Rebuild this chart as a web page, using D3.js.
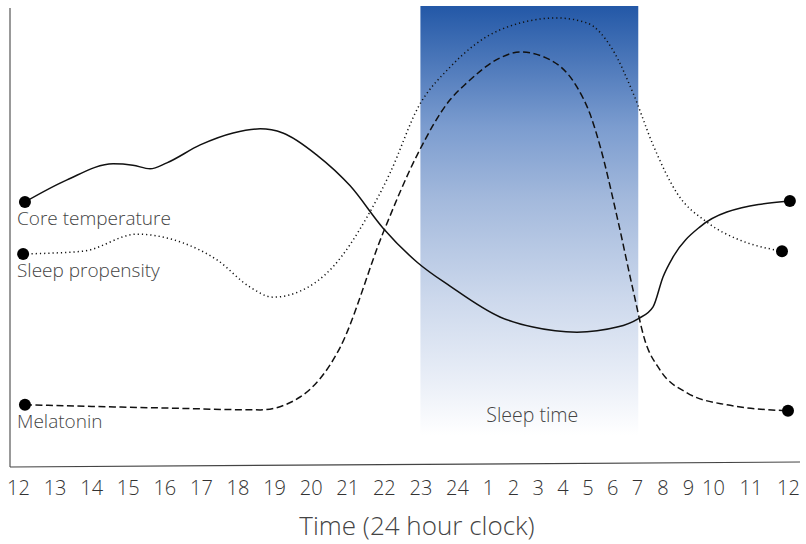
<!DOCTYPE html>
<html><head><meta charset="utf-8">
<script src="https://cdn.jsdelivr.net/npm/d3@7"></script>
<style>
html,body{margin:0;padding:0;background:#fff;}
svg{display:block;font-family:"Open Sans",Roboto,Arial,sans-serif;font-weight:300;}
</style></head>
<body><svg id="chart" width="806" height="544"></svg>
<script>
// hours since 12:00 noon
const tickHours = d3.range(0, 25);
const tickLabels = ["12","13","14","15","16","17","18","19","20","21","22","23","24","1","2","3","4","5","6","7","8","9","10","11","12"];

const coreHours = [0.19,1.34,2.60,3.14,3.61,4.07,4.98,5.88,6.62,7.24,8.17,9.08,9.98,10.91,11.81,13.48,14.81,16.58,18.20,19.04,19.63,20.02,20.41,21.48,22.37,24.05];
const coreLevel = [57.4,62.2,65.7,65.4,64.6,65.9,69.8,72.4,73.3,72.4,67.6,60.9,51.7,44.3,39.1,32.4,30.2,29.1,30.2,32.0,34.6,41.1,45.4,52.0,55.2,57.6];

const sleepHours = [0.14,1.78,3.25,4.51,5.44,6.34,6.97,7.71,8.61,9.54,10.17,10.94,11.81,13.48,15.78,16.99,18.03,18.84,19.63,20.57,21.76,22.72,23.52,23.84];
const sleepLevel = [46.1,46.7,50.4,48.5,44.8,38.9,36.7,38.0,43.3,54.1,63.7,78.0,86.7,94.8,97.4,96.3,90.4,81.1,69.8,59.3,53.0,49.1,47.2,46.7];

const melHours = [0.19,4.07,6.62,7.71,8.80,9.98,10.91,11.81,12.32,13.48,14.29,15.50,16.58,17.11,17.51,18.20,18.84,19.30,19.90,20.96,22.37,24.0];
const melLevel = [13.3,12.6,12.2,15.0,25.7,50.7,67.6,79.6,83.3,88.7,90.0,88.3,82.4,76.5,69.6,54.1,38.3,27.5,20.9,15.9,13.3,12.0];

const seriesNames = ["Core temperature","Sleep propensity","Melatonin"];
const sleepWindow = [11, 19.05];
const sleepLevelRange = [6.7, 100];

const svg = d3.select("#chart");
const x = d3.scaleLinear()
  .domain([0,12,13,19,21,22,24])
  .range([18,457,488,637,688,713,788]);
const y = d3.scaleLinear().domain([0,100]).range([466,6]);

// gradient
const defs = svg.append("defs");
const grad = defs.append("linearGradient").attr("id","sleepGrad")
  .attr("x1",0).attr("y1",0).attr("x2",0).attr("y2",1);
[[0,"#2358a7"],[0.28,"#7b9ccf"],[0.45,"#a3b9dc"],[0.68,"#ccd8ec"],[0.87,"#e9eef7"],[1,"#ffffff"]]
  .forEach(s=>grad.append("stop").attr("offset",s[0]).attr("stop-color",s[1]));

svg.append("rect")
  .attr("x", x(sleepWindow[0]))
  .attr("width", x(sleepWindow[1]) - x(sleepWindow[0]))
  .attr("y", y(sleepLevelRange[1]))
  .attr("height", y(sleepLevelRange[0]) - y(sleepLevelRange[1]))
  .attr("fill","url(#sleepGrad)");

svg.append("text").attr("x", x((sleepWindow[0]+sleepWindow[1])/2)-6).attr("y", 422)
  .attr("text-anchor","middle").attr("font-size",19.5).attr("fill","#444").text("Sleep time");

// axes
svg.append("line").attr("x1",10).attr("y1",8).attr("x2",10).attr("y2",467)
  .attr("stroke","#555").attr("stroke-width",1.2);
svg.append("line").attr("x1",10).attr("y1",467).attr("x2",800).attr("y2",462)
  .attr("stroke","#444").attr("stroke-width",1.2);

const xAxis = d3.axisBottom(x).tickValues(tickHours).tickSize(0).tickPadding(0)
  .tickFormat((d,i)=>tickLabels[i]);
const gx = svg.append("g").attr("transform","translate(0,481)").call(xAxis);
gx.select(".domain").remove();
gx.selectAll("text").attr("font-size",20).attr("fill","#333")
  .attr("font-family","'Open Sans',Roboto,sans-serif").attr("font-weight",300);

svg.append("text").attr("x",417).attr("y",535).attr("text-anchor","middle")
  .attr("font-size",26).attr("fill","#444").text("Time (24 hour clock)");

const line = d3.line().x(d=>x(d[0])).y(d=>y(d[1])).curve(d3.curveMonotoneX);
const series = [
  {name:seriesNames[0], data:d3.zip(coreHours, coreLevel), dash:null},
  {name:seriesNames[1], data:d3.zip(sleepHours, sleepLevel), dash:"1.2,3"},
  {name:seriesNames[2], data:d3.zip(melHours, melLevel), dash:"7,3.5"}
];
series.forEach(s=>{
  svg.append("path").datum(s.data).attr("d",line).attr("fill","none")
    .attr("stroke","#111").attr("stroke-width",1.5)
    .attr("stroke-dasharray",s.dash);
  [s.data[0], s.data[s.data.length-1]].forEach(p=>{
    svg.append("circle").attr("cx",x(p[0])).attr("cy",y(p[1])).attr("r",6).attr("fill","#000");
  });
  svg.append("text").attr("x",17).attr("y",y(s.data[0][1])+23)
    .attr("font-size",19).attr("fill","#444").text(s.name);
});
</script></body></html>
